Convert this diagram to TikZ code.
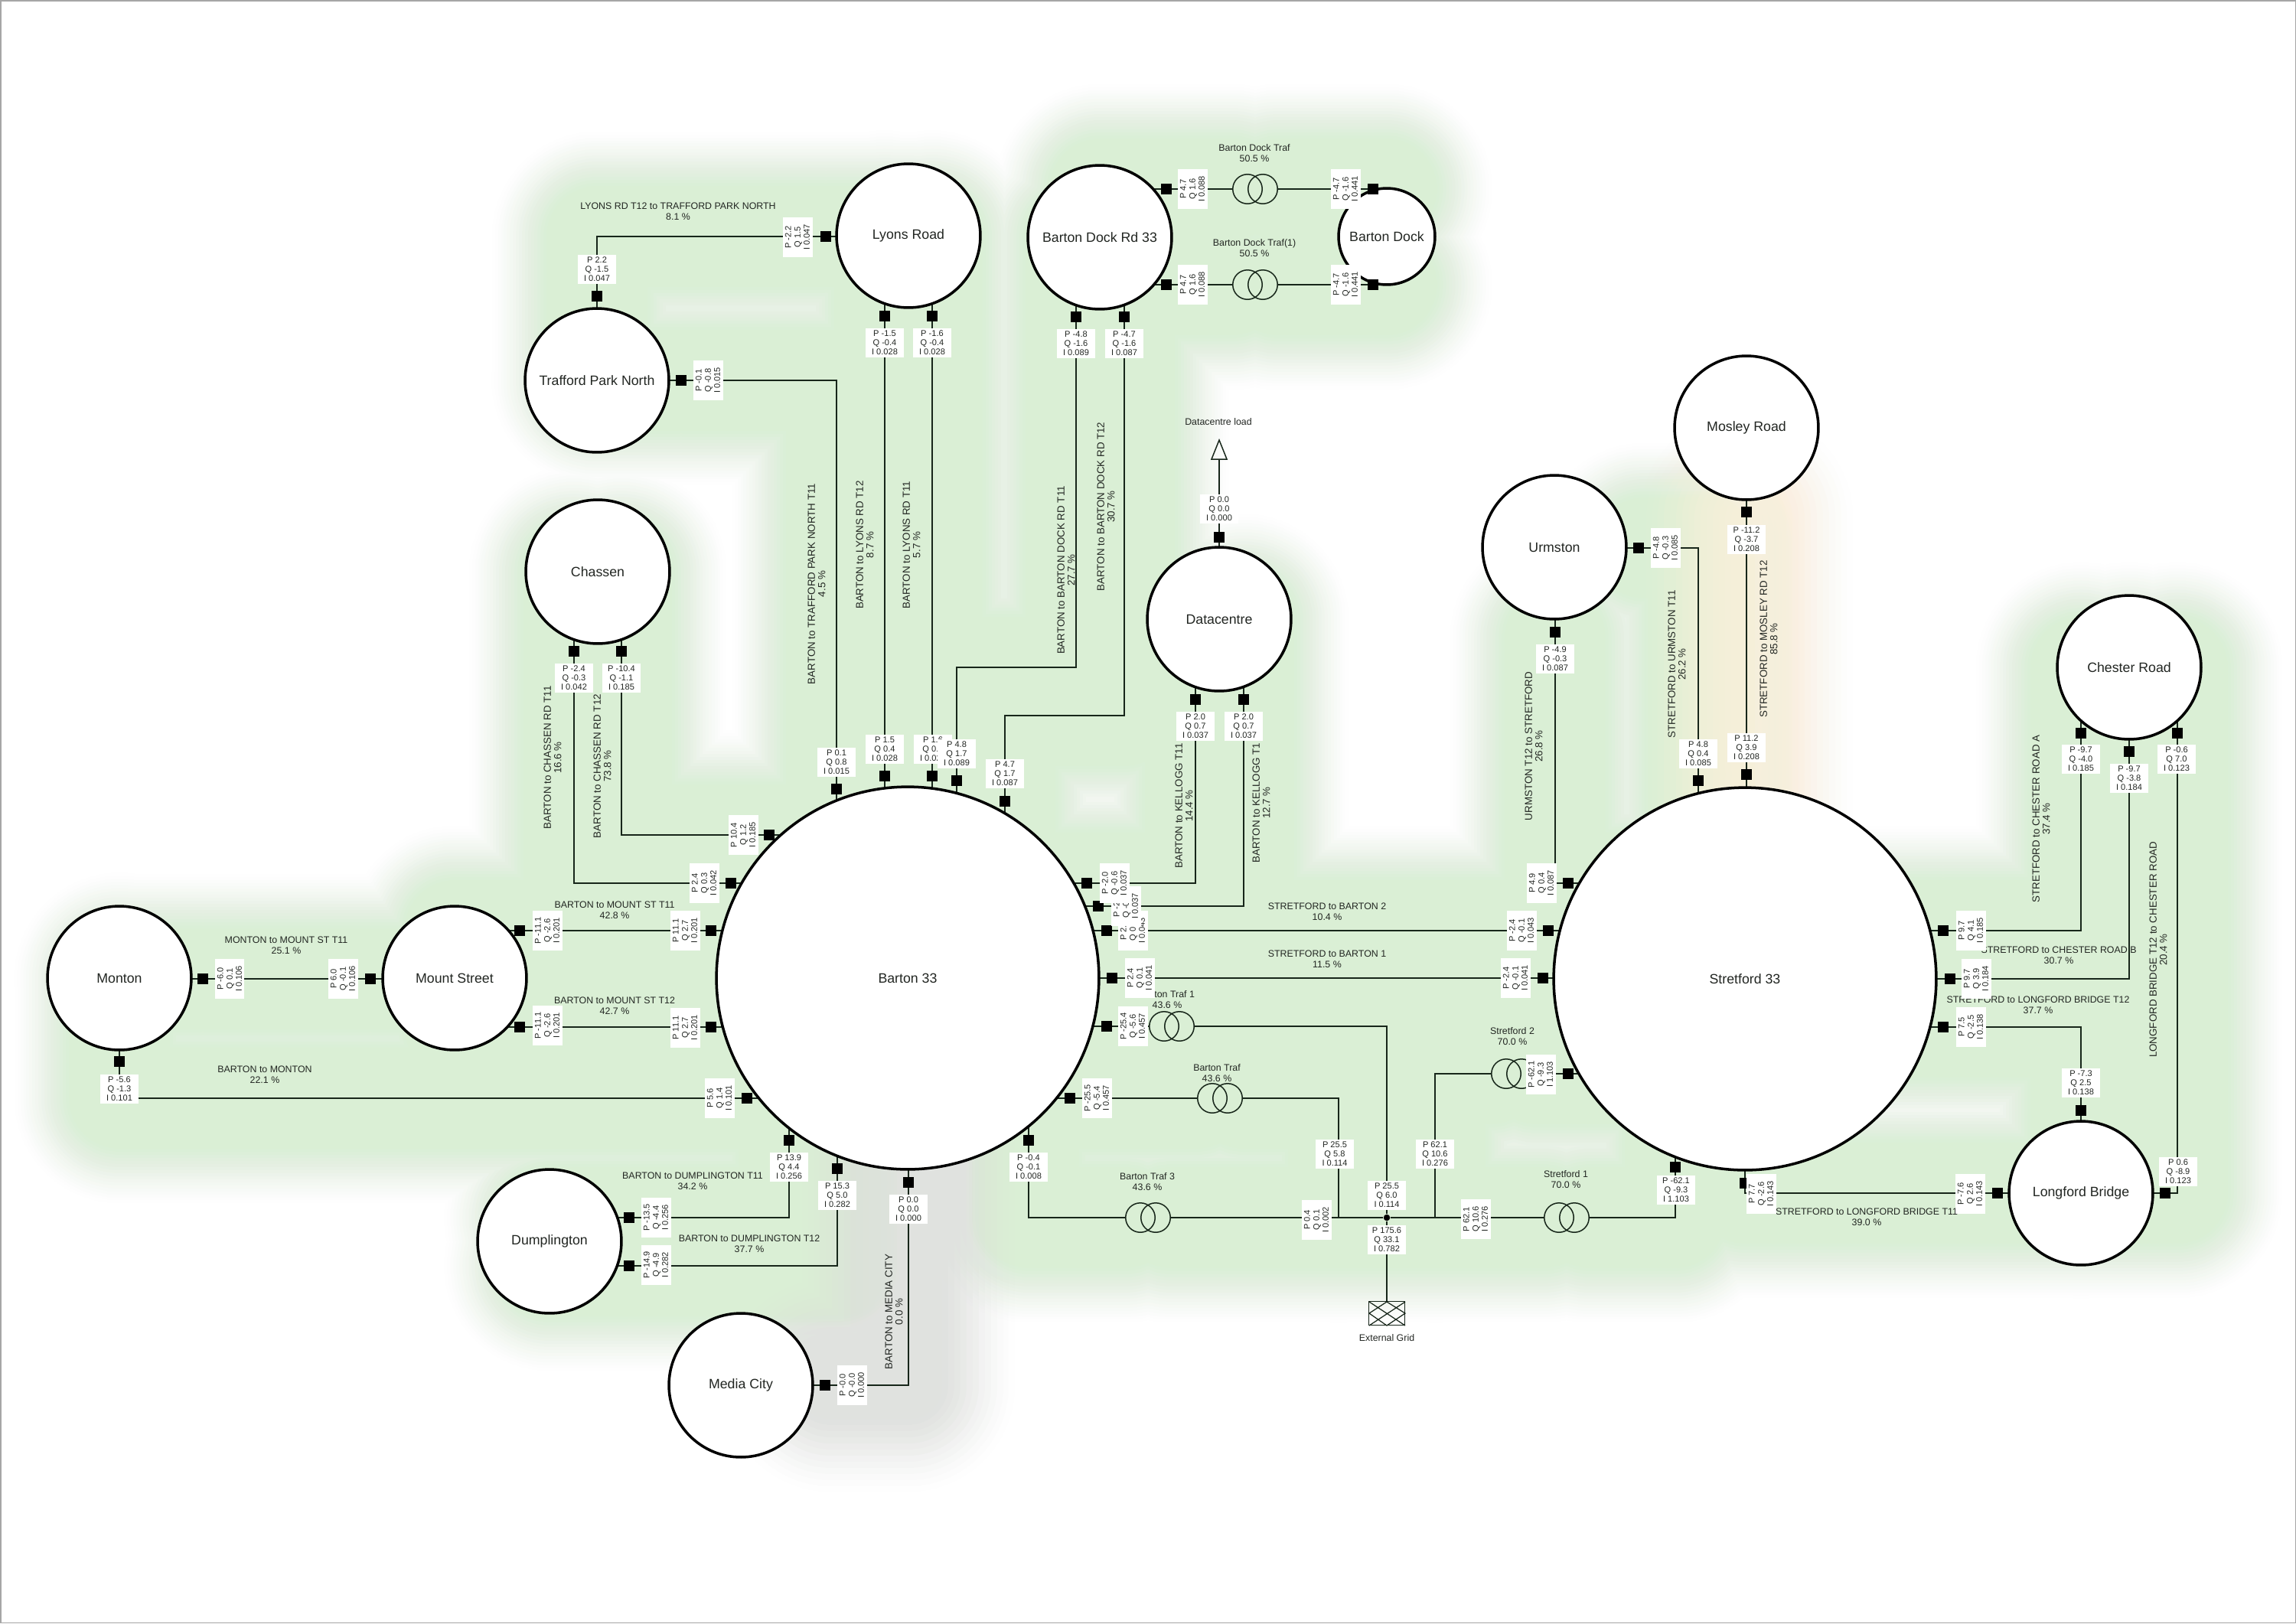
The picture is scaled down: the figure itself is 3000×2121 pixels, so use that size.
\documentclass[tikz,border=0pt]{standalone}
\usepackage{fontspec}
\setmainfont{Liberation Sans}
\pgfdeclarelayer{glow}\pgfdeclarelayer{lines}
\pgfsetlayers{glow,lines,main}
\definecolor{linecol}{HTML}{17261A}
\definecolor{txtcol}{HTML}{222622}
\definecolor{glowgreen}{HTML}{DAEFD5}
\definecolor{glowgrey}{HTML}{E0E2DF}
\definecolor{gloworange}{HTML}{FAEFDC}
\tikzset{
 conn/.style={draw=linecol,line width=0.85pt,line join=miter},
 bus/.style={circle,draw=black,fill=white,line width=2pt,inner sep=0pt,text=txtcol,font=\fontsize{10.1}{11}\selectfont},
 term/.style={rectangle,fill=black,inner sep=0pt,minimum size=0.27cm},
 valbox/.style={rectangle,fill=white,inner sep=0pt,align=center,text=txtcol,minimum width=1cm,minimum height=0.76cm,font=\fontsize{6.3}{6.9}\selectfont},
 sidebox/.style={valbox,rotate=90,minimum width=1.03cm,minimum height=0.78cm},
 linelab/.style={align=center,inner sep=0pt,text=txtcol,font=\fontsize{7.05}{7.7}\selectfont},
 linelabr/.style={align=center,inner sep=0pt,text=txtcol,rotate=90,font=\fontsize{7.6}{7.8}\selectfont},
 traf/.style={rectangle,inner sep=0pt,minimum width=1.18cm,minimum height=0.76cm},
 glowline/.style={line cap=round,line join=round},
}
\newcommand\Bus[5]{\node[bus,minimum size=#4*0.04cm] (#1) at (#2,#3) {#5};}
\newcommand\Sq[3]{\node[term] (#1) at (#2,#3) {};}
\newcommand\LU[6]{\node[valbox] (#1) at (#2,#3) {#4\\#5\\#6};}
\newcommand\LS[6]{\node[sidebox] (#1) at (#2,#3) {#4\\#5\\#6};}
\newcommand\TT[5]{\node[linelab] (#1) at (#2,#3) {#4\\#5};}
\newcommand\TR[5]{\node[linelabr] (#1) at (#2,#3) {#4\\#5};}
\newcommand\Traf[3]{\node[traf] (#1) at (#2,#3) {};
 \draw[conn] ([xshift=-0.2cm]#1.center) circle[radius=0.385cm];
 \draw[conn] ([xshift=0.2cm]#1.center) circle[radius=0.385cm];}
% connector paths
\newcommand\ConnGreen{
 (sTPNup)--(sTPNup|-tpn) (sTPNup)|-(sLyW) (sLyW)--(sLyW-|lyons)
 (sLy1)--(sLy1|-lyons) (sLy1)--(sBa1) (sBa1)--(sBa1|-barton)
 (sLy2)--(sLy2|-lyons) (sLy2)--(sBa2) (sBa2)--(sBa2|-barton)
 (sTPNe)--(sTPNe-|tpn) (sTPNe)-|(sBa3) (sBa3)--(sBa3|-barton)
 (sDk1)--(sDk1|-dockrd) (sDk1)--(sDk1|-kA)--(kA)--(sBa4) (sBa4)--(sBa4|-barton)
 (sDk2)--(sDk2|-dockrd) (sDk2)--(sDk2|-kB)--(kB)--(sBa5) (sBa5)--(sBa5|-barton)
 (sCh1)--(sCh1|-chassen) (sCh1)|-(sBa6) (sBa6)--(sBa6-|barton)
 (sCh2)--(sCh2|-chassen) (sCh2)|-(sBa7) (sBa7)--(sBa7-|barton)
 (sMs1)--(sMs1-|mount) (sMs1)--(sBa8) (sBa8)--(sBa8-|barton)
 (sMs2)--(sMs2-|mount) (sMs2)--(sBa9) (sBa9)--(sBa9-|barton)
 (sMoE)--(sMoE-|monton) (sMoE)--(sMsW) (sMsW)--(sMsW-|mount)
 (sMoS)--(sMoS|-monton) (sMoS)|-(sBa10) (sBa10)--(sBa10-|barton)
 (sBa11)--(sBa11|-barton) (sBa11)|-(sDu1) (sDu1)--(sDu1-|dump)
 (sBa12)--(sBa12|-barton) (sBa12)|-(sDu2) (sDu2)--(sDu2-|dump)
 (sBa14)--(sBa14|-barton) (sBa14)|-(trC.west) (trC.east)--(jn)
 (sBa15)--(sBa15-|barton) (sBa15)--(trB.west) (trB.east)-|(kC)
 (sBa16)--(sBa16-|barton) (sBa16)--(trA.west) (trA.east)-|(jn)
 (sBa17)--(sBa17-|barton) (sBa17)--(sSt1) (sSt1)--(sSt1-|stretford)
 (sBa18)--(sBa18-|barton) (sBa18)--(sSt2) (sSt2)--(sSt2-|stretford)
 (sBa19)--(sBa19-|barton) (sBa19)-|(sDc1) (sDc1)--(sDc1|-datac)
 (sBa20)--(sBa20-|barton) (sBa20)-|(sDc2) (sDc2)--(sDc2|-datac)
 (sUr)|-(sSt3) (sSt3)--(sSt3-|stretford)
 (sUrE)-|(sSt4) (sSt4)--(sSt4|-stretford)
 (sChA)--(sChA|-chester) (sChA)|-(sSt6) (sSt6)--(sSt6-|stretford)
 (sChB)--(sChB|-chester) (sChB)|-(sSt7) (sSt7)--(sSt7-|stretford)
 (sChC)--(sChC|-chester) (sChC)|-(sLbE) (sLbE)--(sLbE-|longford)
 (sLbN)--(sLbN|-longford) (sLbN)|-(sSt8) (sSt8)--(sSt8-|stretford)
 (sLbW)--(sLbW-|longford) (sLbW)-|(sSt9) (sSt9)--(sSt9|-stretford)
 (sSt10)--(sSt10-|stretford) (sSt10)--(trD.east) (trD.west)-|(kD)
 (jn)--(trE.west) (trE.east)-|(sSt11) (sSt11)--(sSt11|-stretford)
 (sDr1)--(sDr1-|dockrd) (sDr1)--(trF.west) (trF.east)--(sDk3) (sDk3)--(sDk3-|dock)
 (sDr2)--(sDr2-|dockrd) (sDr2)--(trG.west) (trG.east)--(sDk4) (sDk4)--(sDk4-|dock)
}
\newcommand\ConnGrey{(sBa13)--(sBa13|-barton) (sBa13)|-(sMe)}
\newcommand\ConnOrange{(sMo)--(sSt5) (sSt5)--(sSt5|-stretford)}
\newcommand\ConnPlain{(jn)--(gridbox.north) (sDc3)--(sDc3|-datac) (sDc3)--(loadbase)
 (sUr)--(sUr|-urmston) (sUrE)--(sUrE-|urmston) (sMo)--(sMo|-mosley) (sMe)--(sMe-|media)}
\begin{document}
\begin{tikzpicture}[x=0.02cm,y=-0.02cm]
\useasboundingbox (0,0) rectangle (3000,2121);
% buses
\Bus{barton}{1186}{1278}{250}{Barton 33}
\Bus{stretford}{2280}{1279}{250}{Stretford 33}
\Bus{lyons}{1187}{308}{94}{Lyons Road}
\Bus{tpn}{780}{497}{94}{Trafford Park North}
\Bus{dockrd}{1437}{310}{94}{Barton Dock Rd 33}
\Bus{dock}{1812}{309}{63}{Barton Dock}
\Bus{chassen}{781}{747}{94}{Chassen}
\Bus{datac}{1593}{809}{94}{Datacentre}
\Bus{urmston}{2031}{715}{94}{Urmston}
\Bus{mosley}{2282}{559}{94}{Mosley Road}
\Bus{chester}{2782}{872}{94}{Chester Road}
\Bus{longford}{2719}{1559}{94}{Longford Bridge}
\Bus{monton}{156}{1278}{94}{Monton}
\Bus{mount}{594}{1278}{94}{Mount Street}
\Bus{dump}{718}{1622}{94}{Dumplington}
\Bus{media}{968}{1810}{94}{Media City}
% transformers
\Traf{trA}{1531}{1341}
\Traf{trB}{1594}{1435}
\Traf{trC}{1500}{1591}
\Traf{trD}{1978}{1403}
\Traf{trE}{2047}{1591}
\Traf{trF}{1640}{247}
\Traf{trG}{1640}{372}
% junction, grid, load
\node[circle,fill=black,inner sep=0pt,minimum size=0.17cm] (jn) at (1812,1591) {};
\coordinate (kA) at (1250,872);
\coordinate (kB) at (1313,935);
\coordinate (kC) at (1749,1591);
\coordinate (kD) at (1875,1591);
\coordinate (loadbase) at (1593,600);
\node[rectangle,draw=linecol,line width=0.85pt,minimum width=0.94cm,minimum height=0.62cm,inner sep=0pt] (gridbox) at (1812,1716) {};
\draw[conn,line width=0.7pt] (1789,1701)--(1836,1732) (1836,1701)--(1789,1732)
 (1812,1701)--(1789,1716)--(1812,1732)--(1836,1716)--cycle;
\draw[conn,line join=miter] (1583,600)--(1593,575)--(1603,600)--cycle;
\node[linelab] (gridlab) at (1812,1748) {External Grid};
\node[linelab] (loadlab) at (1592,551) {Datacentre load};
% line labels
\TT{t01}{886}{276}{LYONS RD T12 to TRAFFORD PARK NORTH}{8.1 \%}
\TT{t02}{1639}{200}{Barton Dock Traf}{50.5 \%}
\TT{t03}{1639}{324}{Barton Dock Traf(1)}{50.5 \%}
\TR{t04}{1067}{763}{BARTON to TRAFFORD PARK NORTH T11}{4.5 \%}
\TR{t05}{1130}{712}{BARTON to LYONS RD T12}{8.7 \%}
\TR{t06}{1191}{712}{BARTON to LYONS RD T11}{5.7 \%}
\TR{t07}{1393}{745}{BARTON to BARTON DOCK RD T11}{27.7 \%}
\TR{t08}{1445}{662}{BARTON to BARTON DOCK RD T12}{30.7 \%}
\TR{t09}{722}{990}{BARTON to CHASSEN RD T11}{16.6 \%}
\TR{t10}{787}{1001}{BARTON to CHASSEN RD T12}{73.8 \%}
\TR{t11}{1547}{1053}{BARTON to KELLOGG T11}{14.4 \%}
\TR{t12}{1648}{1049}{BARTON to KELLOGG T1}{12.7 \%}
\TT{t13}{374}{1235}{MONTON to MOUNT ST T11}{25.1 \%}
\TT{t14}{803}{1189}{BARTON to MOUNT ST T11}{42.8 \%}
\TT{t15}{803}{1314}{BARTON to MOUNT ST T12}{42.7 \%}
\TT{t16}{346}{1404}{BARTON to MONTON}{22.1 \%}
\TT{t17}{905}{1543}{BARTON to DUMPLINGTON T11}{34.2 \%}
\TT{t18}{979}{1625}{BARTON to DUMPLINGTON T12}{37.7 \%}
\TR{t19}{1168}{1714}{BARTON to MEDIA CITY}{0.0 \%}
\TT{t20}{1734}{1191}{STRETFORD to BARTON 2}{10.4 \%}
\TT{t21}{1734}{1253}{STRETFORD to BARTON 1}{11.5 \%}
\TT{t22}{1525}{1306}{Barton Traf 1}{43.6 \%}
\TT{t23}{1590}{1402}{Barton Traf}{43.6 \%}
\TT{t24}{1499}{1544}{Barton Traf 3}{43.6 \%}
\TT{t25}{1976}{1354}{Stretford 2}{70.0 \%}
\TT{t26}{2046}{1541}{Stretford 1}{70.0 \%}
\TR{t27}{2004}{975}{URMSTON T12 to STRETFORD}{26.8 \%}
\TR{t28}{2191}{868}{STRETFORD to URMSTON T11}{26.2 \%}
\TR{t29}{2311}{835}{STRETFORD to MOSLEY RD T12}{85.8 \%}
\TR{t30}{2667}{1070}{STRETFORD to CHESTER ROAD A}{37.4 \%}
\TT{t31}{2690}{1248}{STRETFORD to CHESTER ROAD B}{30.7 \%}
\TT{t32}{2663}{1313}{STRETFORD to LONGFORD BRIDGE T12}{37.7 \%}
\TR{t33}{2820}{1241}{LONGFORD BRIDGE T12 to CHESTER ROAD}{20.4 \%}
\TT{t34}{2439}{1590}{STRETFORD to LONGFORD BRIDGE T11}{39.0 \%}
% terminals
\Sq{sTPNup}{780}{387}\Sq{sLyW}{1079}{309}\Sq{sLy1}{1156}{413}\Sq{sLy2}{1218}{413}
\Sq{sBa1}{1156}{1014}\Sq{sBa2}{1218}{1014}\Sq{sTPNe}{890}{497}\Sq{sBa3}{1093}{1031}
\Sq{sDk1}{1406}{414}\Sq{sBa4}{1250}{1020}\Sq{sDk2}{1469}{414}\Sq{sBa5}{1313}{1047}
\Sq{sCh1}{750}{851}\Sq{sBa6}{955}{1154}\Sq{sCh2}{812}{851}\Sq{sBa7}{1005}{1091}
\Sq{sMs1}{679}{1216}\Sq{sBa8}{929}{1216}\Sq{sMs2}{679}{1342}\Sq{sBa9}{929}{1342}
\Sq{sMoE}{265}{1279}\Sq{sMsW}{484}{1279}\Sq{sMoS}{156}{1387}\Sq{sBa10}{976}{1435}
\Sq{sBa11}{1031}{1490}\Sq{sDu1}{822}{1591}\Sq{sBa12}{1094}{1527}\Sq{sDu2}{822}{1654}
\Sq{sBa13}{1187}{1545}\Sq{sMe}{1078}{1810}\Sq{sBa14}{1344}{1490}\Sq{sBa15}{1398}{1435}
\Sq{sBa16}{1446}{1341}\Sq{sBa17}{1453}{1278}\Sq{sSt1}{2016}{1278}\Sq{sBa18}{1446}{1216}
\Sq{sSt2}{2023}{1216}\Sq{sBa19}{1420}{1154}\Sq{sDc1}{1562}{914}\Sq{sBa20}{1435}{1184}
\Sq{sDc2}{1625}{914}\Sq{sDc3}{1593}{702}\Sq{sSt3}{2049}{1154}\Sq{sUr}{2032}{826}
\Sq{sUrE}{2141}{716}\Sq{sSt4}{2219}{1020}\Sq{sMo}{2282}{669}\Sq{sSt5}{2282}{1012}
\Sq{sChA}{2719}{958}\Sq{sSt6}{2539}{1216}\Sq{sChB}{2782}{982}\Sq{sSt7}{2548}{1279}
\Sq{sChC}{2845}{958}\Sq{sLbE}{2829}{1559}\Sq{sLbN}{2719}{1451}\Sq{sSt8}{2539}{1342}
\Sq{sLbW}{2610}{1559}\Sq{sSt9}{2280}{1546}\Sq{sSt10}{2049}{1403}\Sq{sSt11}{2189}{1525}
\Sq{sDr1}{1524}{247}\Sq{sDk3}{1794}{247}\Sq{sDr2}{1524}{372}\Sq{sDk4}{1794}{372}
% value boxes
\LS{b01}{1042}{310}{P -2.2}{Q 1.5}{I 0.047}
\LU{b02}{780}{352}{P 2.2}{Q -1.5}{I 0.047}
\LU{b03}{1156}{448}{P -1.5}{Q -0.4}{I 0.028}
\LU{b04}{1218}{448}{P -1.6}{Q -0.4}{I 0.028}
\LS{b05}{925}{497}{P -0.1}{Q -0.8}{I 0.015}
\LU{b06}{1093}{996}{P 0.1}{Q 0.8}{I 0.015}
\LU{b07}{1156}{979}{P 1.5}{Q 0.4}{I 0.028}
\LU{b08}{1219}{979}{P 1.6}{Q 0.4}{I 0.028}
\LU{b09}{1250}{985}{P 4.8}{Q 1.7}{I 0.089}
\LU{b10}{1313}{1011}{P 4.7}{Q 1.7}{I 0.087}
\LU{b11}{1406}{449}{P -4.8}{Q -1.6}{I 0.089}
\LU{b12}{1469}{449}{P -4.7}{Q -1.6}{I 0.087}
\LS{b13}{1558}{247}{P 4.7}{Q 1.6}{I 0.088}
\LS{b14}{1558}{372}{P 4.7}{Q 1.6}{I 0.088}
\LS{b15}{1758}{247}{P -4.7}{Q -1.6}{I 0.441}
\LS{b16}{1758}{372}{P -4.7}{Q -1.6}{I 0.441}
\LU{b17}{1593}{665}{P 0.0}{Q 0.0}{I 0.000}
\LU{b18}{750}{886}{P -2.4}{Q -0.3}{I 0.042}
\LU{b19}{812}{886}{P -10.4}{Q -1.1}{I 0.185}
\LS{b20}{920}{1154}{P 2.4}{Q 0.3}{I 0.042}
\LS{b21}{971}{1091}{P 10.4}{Q 1.2}{I 0.185}
\LS{b22}{895}{1216}{P 11.1}{Q 2.7}{I 0.201}
\LS{b23}{895}{1343}{P 11.1}{Q 2.7}{I 0.201}
\LS{b24}{715}{1216}{P -11.1}{Q -2.6}{I 0.201}
\LS{b25}{715}{1340}{P -11.1}{Q -2.6}{I 0.201}
\LS{b26}{300}{1279}{P -6.0}{Q 0.1}{I 0.106}
\LS{b27}{448}{1279}{P 6.0}{Q -0.1}{I 0.106}
\LU{b28}{156}{1423}{P -5.6}{Q -1.3}{I 0.101}
\LS{b29}{940}{1435}{P 5.6}{Q 1.4}{I 0.101}
\LU{b30}{1031}{1525}{P 13.9}{Q 4.4}{I 0.256}
\LU{b31}{1094}{1562}{P 15.3}{Q 5.0}{I 0.282}
\LS{b32}{857}{1591}{P -13.5}{Q -4.4}{I 0.256}
\LS{b33}{857}{1653}{P -14.9}{Q -4.9}{I 0.282}
\LU{b34}{1187}{1580}{P 0.0}{Q 0.0}{I 0.000}
\LS{b35}{1113}{1810}{P -0.0}{Q -0.0}{I 0.000}
\LU{b36}{1344}{1525}{P -0.4}{Q -0.1}{I 0.008}
\LS{b37}{1720}{1594}{P 0.4}{Q 0.1}{I 0.002}
\LS{b38}{1433}{1435}{P -25.5}{Q -5.4}{I 0.457}
\LU{b39}{1744}{1508}{P 25.5}{Q 5.8}{I 0.114}
\LS{b40}{1480}{1341}{P -25.4}{Q -5.6}{I 0.457}
\LU{b41}{1812}{1562}{P 25.5}{Q 6.0}{I 0.114}
\LU{b42}{1812}{1620}{P 175.6}{Q 33.1}{I 0.782}
\LU{b43}{1875}{1508}{P 62.1}{Q 10.6}{I 0.276}
\LS{b44}{1928}{1593}{P 62.1}{Q 10.6}{I 0.276}
\LS{b45}{2013}{1404}{P -62.1}{Q -9.3}{I 1.103}
\LU{b46}{2190}{1555}{P -62.1}{Q -9.3}{I 1.103}
\LS{b47}{1480}{1216}{P 2.4}{Q 0.0}{I 0.043}
\LS{b48}{1471}{1184}{P -2.0}{Q -0.6}{I 0.037}
\LS{b49}{1456}{1154}{P -2.0}{Q -0.6}{I 0.037}
\LS{b50}{1489}{1278}{P 2.4}{Q 0.1}{I 0.041}
\LS{b51}{1988}{1216}{P -2.4}{Q -0.1}{I 0.043}
\LS{b52}{1980}{1278}{P -2.4}{Q -0.1}{I 0.041}
\LU{b53}{1562}{949}{P 2.0}{Q 0.7}{I 0.037}
\LU{b54}{1625}{949}{P 2.0}{Q 0.7}{I 0.037}
\LU{b55}{2032}{861}{P -4.9}{Q -0.3}{I 0.087}
\LS{b56}{2014}{1154}{P 4.9}{Q 0.4}{I 0.087}
\LS{b57}{2176}{716}{P -4.8}{Q -0.3}{I 0.085}
\LU{b58}{2219}{985}{P 4.8}{Q 0.4}{I 0.085}
\LU{b59}{2282}{705}{P -11.2}{Q -3.7}{I 0.208}
\LU{b60}{2282}{977}{P 11.2}{Q 3.9}{I 0.208}
\LU{b61}{2719}{992}{P -9.7}{Q -4.0}{I 0.185}
\LU{b62}{2782}{1017}{P -9.7}{Q -3.8}{I 0.184}
\LU{b63}{2844}{992}{P -0.6}{Q 7.0}{I 0.123}
\LS{b64}{2575}{1216}{P 9.7}{Q 4.1}{I 0.185}
\LS{b65}{2582}{1279}{P 9.7}{Q 3.9}{I 0.184}
\LS{b66}{2575}{1342}{P 7.5}{Q -2.5}{I 0.138}
\LU{b67}{2719}{1415}{P -7.3}{Q 2.5}{I 0.138}
\LU{b68}{2846}{1531}{P 0.6}{Q -8.9}{I 0.123}
\LS{b69}{2574}{1560}{P -7.6}{Q 2.6}{I 0.143}
\LS{b70}{2301}{1560}{P 7.7}{Q -2.6}{I 0.143}
% connectors
\begin{pgfonlayer}{lines}
\draw[conn] \ConnGreen;
\draw[conn] \ConnGrey;
\draw[conn] \ConnOrange;
\draw[conn] \ConnPlain;
\end{pgfonlayer}
% soft load shading behind the connectors
\begin{pgfonlayer}{glow}
\fill[white] (0,0) rectangle (3000,2121);
\foreach \w in {60,68,...,276}{
 \pgfmathsetmacro\alphaval{0.015+0.20*(276-\w)/216}
 \draw[glowgreen,opacity=\alphaval,line width=\w*0.5669pt,glowline] \ConnGreen;
}
\foreach \w in {40,56,...,280}{
 \pgfmathsetmacro\alphaval{0.02+0.30*(280-\w)/240}
 \draw[glowgrey,opacity=\alphaval,line width=\w*0.5669pt,glowline] \ConnGrey;
 \draw[gloworange,opacity=\alphaval,line width=\w*0.5669pt,glowline] \ConnOrange;
}
\draw[gray!70,line width=0.6pt] (1,1) rectangle (2999,2120);
\end{pgfonlayer}
\end{tikzpicture}
\end{document}
